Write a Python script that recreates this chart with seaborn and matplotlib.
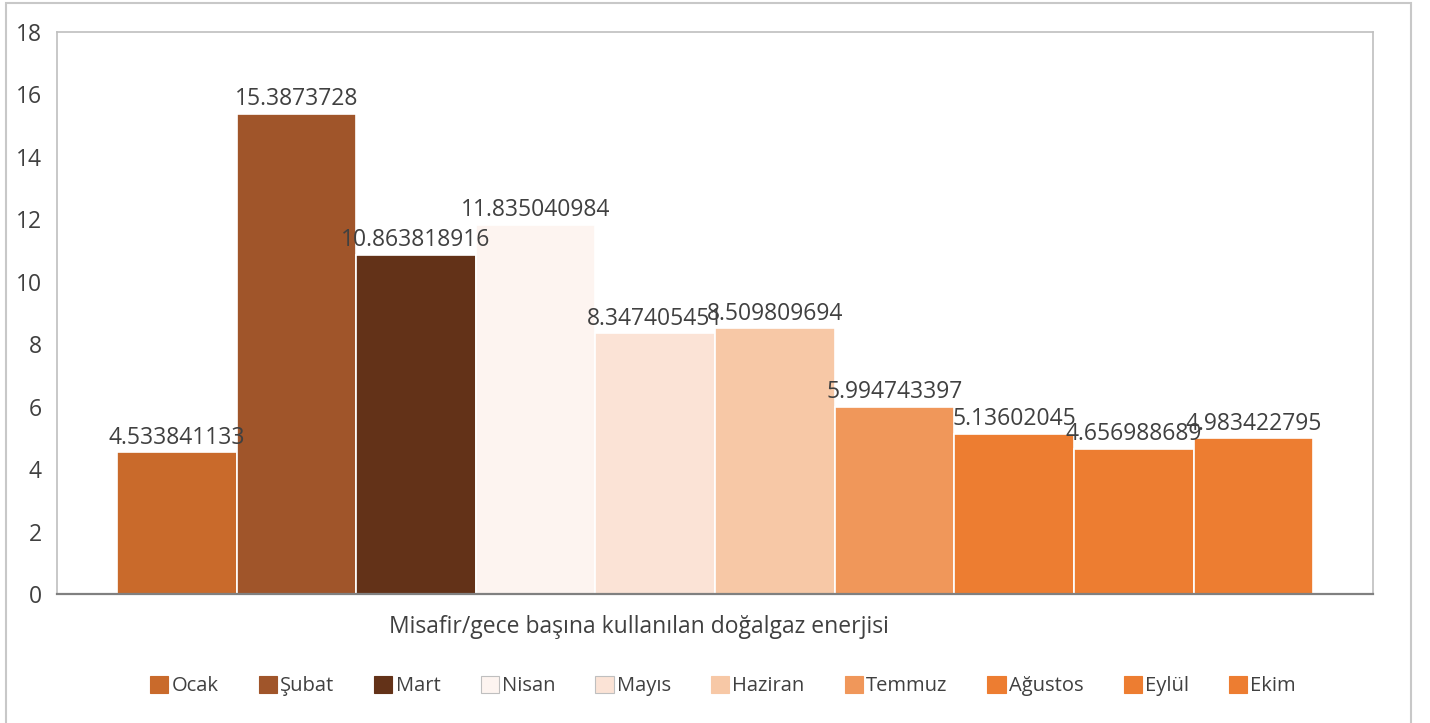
import matplotlib
matplotlib.use("Agg")
import matplotlib.pyplot as plt
import matplotlib.patches as mpatches
import pandas as pd
import seaborn as sns

months = ["Ocak", "Şubat", "Mart", "Nisan", "Mayıs", "Haziran",
          "Temmuz", "Ağustos", "Eylül", "Ekim"]
values = [4.533841133, 15.3873728, 10.863818916, 11.835040984, 8.347405451,
          8.509809694, 5.994743397, 5.13602045, 4.656988689, 4.983422795]
value_labels = ["4.533841133", "15.3873728", "10.863818916", "11.835040984",
                "8.347405451", "8.509809694", "5.994743397", "5.13602045",
                "4.656988689", "4.983422795"]
colors = ["#C96A2B", "#A0552A", "#633218", "#FDF4F0", "#FBE3D6", "#F7C8A6",
          "#F0975A", "#ED7D31", "#ED7D31", "#ED7D31"]
xlabel = "Misafir/gece başına kullanılan doğalgaz enerjisi"

sns.set_style("white")
plt.rcParams["font.family"] = ["Open Sans", "DejaVu Sans"]

df = pd.DataFrame({"ay": months, "deger": values})

fig = plt.figure(figsize=(14.3, 7.23), dpi=100)
ax = fig.add_axes([0.0399, 0.1784, 0.9203, 0.7773])

sns.barplot(data=df, x="ay", y="deger", hue="ay", palette=colors, saturation=1,
            width=1.0, edgecolor="white", linewidth=1.2, legend=False, ax=ax)

ax.set_xlim(-1, 10)
ax.set_ylim(0, 18)
ax.set_yticks(range(0, 19, 2))
ax.set_xticks([])
ax.set_xlabel("")
ax.set_ylabel("")
ax.tick_params(axis="y", length=0, pad=11, labelsize=16.5, labelcolor="#404040")

for side in ["left", "top", "right"]:
    ax.spines[side].set_color("#BFBFBF")
    ax.spines[side].set_linewidth(1.2)
ax.spines["bottom"].set_color("#808080")
ax.spines["bottom"].set_linewidth(1.6)

for i, (v, lab) in enumerate(zip(values, value_labels)):
    ax.annotate(lab, (i, v), xytext=(0, 2), textcoords="offset points",
                ha="center", va="bottom", fontsize=16.5, color="#404040")

fig.text(639 / 1430, 1 - 627 / 723, xlabel, ha="center", va="center",
         fontsize=16.5, color="#404040")

handles = []
for m, c in zip(months, colors):
    handles.append(mpatches.Patch(facecolor=c, edgecolor="#BFBFBF" if m in ("Nisan", "Mayıs") else c,
                                  linewidth=0.8, label=m))
fig.legend(handles=handles, loc="center", bbox_to_anchor=(723 / 1430, 1 - 686 / 723),
           ncol=10, frameon=False, fontsize=14.5, handlelength=0.9, handleheight=0.9,
           handletextpad=0.15, columnspacing=2.0, labelcolor="#404040")

# dış çerçeve
frame = mpatches.Rectangle((6 / 1430, -0.01), 1405 / 1430, 1 - 3 / 723 + 0.01,
                           transform=fig.transFigure, fill=False,
                           edgecolor="#C8C8C8", linewidth=1.5)
fig.patches.append(frame)

fig.savefig("out.png", dpi=100)
plt.close(fig)
